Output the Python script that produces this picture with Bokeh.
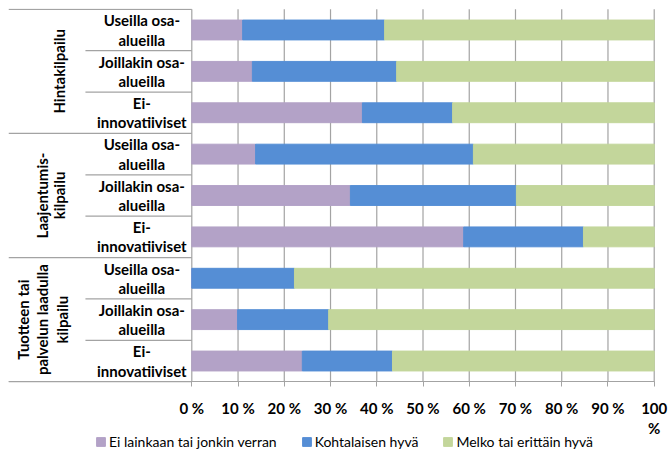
import math
from bokeh.plotting import figure
from bokeh.models import ColumnDataSource, Range1d, FixedTicker, Legend, LegendItem
from bokeh.core.properties import value
from bokeh.embed import file_html
from bokeh.resources import INLINE

# ---------------- data ----------------
groups = ["Hintakilpailu", "Laajentumis-\nkilpailu", "Tuotteen tai\npalvelun laadulla\nkilpailu"]
subcategories = ["Useilla osa-\nalueilla", "Joillakin osa-\nalueilla", "Ei-\ninnovatiiviset"]
series_labels = ["Ei lainkaan tai jonkin verran", "Kohtalaisen hyvä", "Melko tai erittäin hyvä"]
ei_lainkaan = [11.0, 13.1, 36.9, 13.8, 34.3, 58.8, 0.0, 9.9, 23.9]
kohtalaisen = [30.7, 31.2, 19.5, 47.1, 35.9, 25.9, 22.2, 19.7, 19.5]
melko_hyva = [58.3, 55.7, 43.6, 39.1, 29.8, 15.3, 77.8, 70.4, 56.6]
x_ticks = [0, 10, 20, 30, 40, 50, 60, 70, 80, 90, 100]
tick_labels = ["0 %", "10 %", "20 %", "30 %", "40 %", "50 %", "60 %", "70 %", "80 %", "90 %", "100\n%"]

# ---------------- styles / layout ----------------
colors = ["#b3a2c7", "#558ed5", "#c3d69b"]
grey = "#a3a3a3"
FONT = "Lato"
X_LEFT = -39.64          # left edge of label area (data units)
X_RIGHT = 103.09         # frame reaches the page edge so the "100 %" label is not clipped
SUB_LINE_X = -23.0       # start of sub-category separators
SUB_LABEL_X = -10.8      # centre of sub-category labels
GROUP_LABEL_X = [-28.7, -30.5, -32.3]
GROUP_LINE_H = [1.08, 0.95, 1.08]
Y_BOTTOM = -1.711        # frame extends below the bars for axis labels and legend

n_sub = len(subcategories)
n_rows = len(groups) * n_sub
row_y = [n_rows - 0.5 - i for i in range(n_rows)]

src = ColumnDataSource(dict(y=row_y, ei=ei_lainkaan, koht=kohtalaisen, melko=melko_hyva))

p = figure(width=668, height=452,
           x_range=Range1d(X_LEFT, X_RIGHT), y_range=Range1d(Y_BOTTOM, n_rows + 0.0193),
           output_backend="svg", toolbar_location=None, y_axis_location=None,
           min_border_left=8, min_border_right=0, min_border_top=8, min_border_bottom=0)
p.outline_line_color = None
p.ygrid.visible = False
p.xgrid.visible = False

# x axis, fixed at y = 0
p.xaxis.fixed_location = 0
p.xaxis.bounds = (X_LEFT, x_ticks[-1])
p.xaxis.ticker = FixedTicker(ticks=x_ticks)
p.xaxis.major_label_overrides = {t: lab for t, lab in zip(x_ticks, tick_labels)}
p.xaxis.minor_tick_line_color = None
p.xaxis.major_tick_in = 0
p.xaxis.major_tick_out = 5
p.xaxis.axis_line_color = grey
p.xaxis.major_tick_line_color = grey
p.xaxis.major_label_standoff = 12
p.xaxis.major_label_text_font = FONT
p.xaxis.major_label_text_font_style = "bold"
p.xaxis.major_label_text_font_size = "15px"
p.xaxis.major_label_text_color = "black"
p.xaxis.major_label_text_line_height = 1.1

# vertical grid lines, only over the bar area
p.segment(x0=x_ticks, y0=[0] * len(x_ticks), x1=x_ticks, y1=[n_rows] * len(x_ticks),
          line_color=grey, line_width=1.2, level="underlay")

# bars
renderers = p.hbar_stack(["ei", "koht", "melko"], y="y", height=0.48, color=colors, source=src)

# separators in category label area
sep_x0, sep_y = [], []
for g in range(len(groups) + 1):
    sep_x0.append(X_LEFT)
    sep_y.append(n_rows - g * n_sub)
for g in range(len(groups)):
    for k in range(1, n_sub):
        sep_x0.append(SUB_LINE_X)
        sep_y.append(n_rows - g * n_sub - k)
p.segment(x0=sep_x0, y0=sep_y, x1=[0] * len(sep_y), y1=sep_y, line_color=grey, line_width=1.2)

# sub-category labels
p.text(x=[SUB_LABEL_X] * n_rows, y=row_y, text=[s for g in groups for s in subcategories],
       text_font=value(FONT), text_font_style="bold", text_font_size="15px",
       text_align="center", text_baseline="middle", text_line_height=1.07, text_color="black")

# group labels (rotated)
for g, name in enumerate(groups):
    gy = n_rows - g * n_sub - n_sub / 2
    p.text(x=[GROUP_LABEL_X[g]], y=[gy], text=[name], angle=math.pi / 2,
           text_font=value(FONT), text_font_style="bold", text_font_size="15px",
           text_align="center", text_baseline="middle", text_line_height=GROUP_LINE_H[g],
           text_color="black")

legend = Legend(items=[LegendItem(label=l, renderers=[r]) for l, r in zip(series_labels, renderers)],
                orientation="horizontal", location=(87, 2), padding=0, margin=0, spacing=24,
                glyph_width=11, glyph_height=11, label_standoff=3,
                label_text_font=FONT, label_text_font_size="14px", label_text_color="black",
                border_line_color=None, background_fill_alpha=0)
p.add_layout(legend, "center")

open("out.html", "w").write(file_html(p, INLINE))
